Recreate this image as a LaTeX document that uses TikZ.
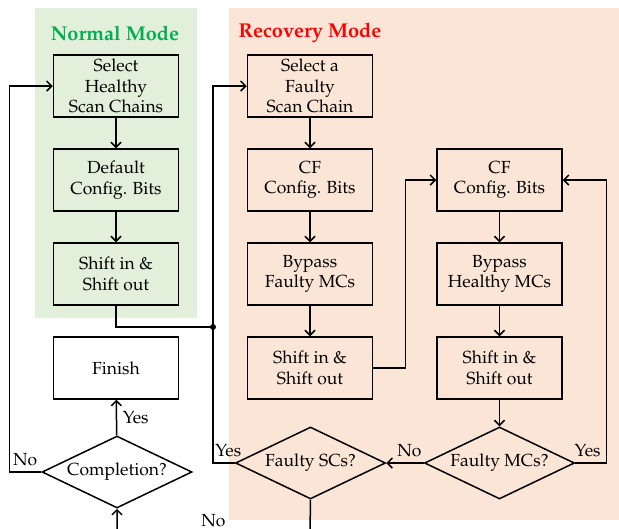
\documentclass[tikz,border=0pt]{standalone}
\usepackage[T1]{fontenc}
\usepackage{mathpazo}
\usepackage{xcolor}
\usetikzlibrary{shapes.geometric, arrows.meta}
\definecolor{normalbg}{RGB}{226,239,218}
\definecolor{recovbg}{RGB}{251,229,214}
\definecolor{normaltxt}{RGB}{0,176,80}
\definecolor{recovtxt}{RGB}{255,0,0}
\tikzset{
  blk/.style={draw, line width=0.9pt, minimum width=75pt, minimum height=37.2pt, align=center, inner sep=1pt},
  dec/.style={draw, diamond, aspect=2.1, line width=0.9pt, inner sep=0pt, minimum width=90pt, minimum height=43.2pt},
  flow/.style={line width=0.9pt, -{Straight Barb[length=3pt, width=6pt]}},
  link/.style={line width=0.9pt},
  ttl/.style={font=\large\bfseries}
}

\begin{document}
\begin{tikzpicture}[x=0.6pt, y=-0.6pt, font=\fontsize{10.5}{12.3}\selectfont]
\useasboundingbox (0,0) rectangle (619,529);
\clip (0,0) rectangle (619,529);
\fill [normalbg] (35,8) rectangle (197,318);
\fill [recovbg] (229,8) rectangle (619,520);

\node (T1) at (115,33) [ttl, text=normaltxt] {Normal Mode};
\node (T2) at (310,33) [ttl, text=recovtxt] {Recovery Mode};

\node (N1) at (116,86) [blk] {Select\\Healthy\\Scan Chains};
\node (N2) at (116,180) [blk] {Default\\Config. Bits};
\node (N3) at (116,274) [blk] {Shift in \&\\Shift out};
\node (N4) at (116,368) [blk] {Finish};
\node (Q1) at (117,472) [dec] {Completion?};

\node (R1) at (310,86) [blk] {Select a\\Faulty\\Scan Chain};
\node (R2) at (310,180) [blk] {CF\\Config. Bits};
\node (R3) at (310,274) [blk] {Bypass\\Faulty MCs};
\node (R4) at (310,368) [blk] {Shift in \&\\Shift out};
\node (Q2) at (310.5,463) [dec] {Faulty SCs?};

\node (S1) at (499.5,180) [blk] {CF\\Config. Bits};
\node (S2) at (499.5,274) [blk] {Bypass\\Healthy MCs};
\node (S3) at (499.5,368) [blk] {Shift in \&\\Shift out};
\node (Q3) at (499.5,463) [dec] {Faulty MCs?};

\coordinate (J) at (213,327);
\coordinate (B) at (310,533);

% normal mode
\draw [flow] (N1) -- (N2);
\draw [flow] (N2) -- (N3);
\draw [link] (N3.south) |- (J);
\fill (J) circle (1.8pt);
\draw [flow] (Q1) -- (N4) node[midway, right] {Yes};
\draw [flow] (Q1.west) -- ++(-32,0) node[midway, above] {No} |- (N1.west);

% recovery mode
\draw [flow] (R1) -- (R2);
\draw [flow] (R2) -- (R3);
\draw [flow] (R3) -- (R4);
\draw [flow] (R4.east) -- ++(32,0) |- (S1.west);
\draw [flow] (S1) -- (S2);
\draw [flow] (S2) -- (S3);
\draw [flow] (S3) -- (Q3);
\draw [flow] (Q3.east) -- ++(31,0) node[pos=0.4, above] {Yes} |- (S1.east);
\draw [flow] (Q3.west) -- (Q2.east) node[pos=0.38, above] {No};
\draw [flow] (Q2.west) -- (J |- Q2.west) node[pos=0.3, above] {Yes} |- (R1.west);
\draw [flow] (Q2.south) -- (B) -- (Q1.south |- B) node[midway, above] {No} -- (Q1.south);
\end{tikzpicture}
\end{document}
